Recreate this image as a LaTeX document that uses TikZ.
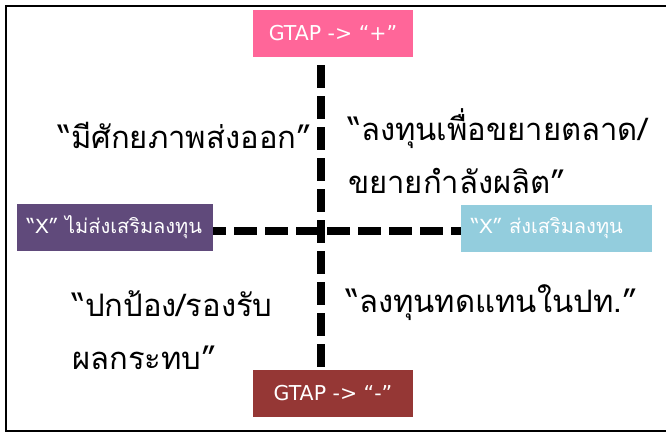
\documentclass[tikz,border=0pt]{standalone}
\usepackage{fontspec}
\newfontfamily\thaifont[Script=Thai]{Loma}
\newfontfamily\latinfont{DejaVu Sans}
\definecolor{gtappos}{HTML}{FF6699}
\definecolor{gtapneg}{HTML}{953735}
\definecolor{xnot}{HTML}{604A7B}
\definecolor{xyes}{HTML}{93CDDD}
\begin{document}
\begin{tikzpicture}[x=1pt, y=-1pt,
    labelbox/.style={minimum height=47pt, text=white, inner sep=0pt,
      font=\thaifont\fontsize{20}{22}\selectfont},
    gtapbox/.style={labelbox, minimum width=160pt,
      font=\latinfont\fontsize{20.5}{22}\selectfont},
    quadtext/.style={anchor=west, align=left, inner sep=0pt,
      font=\thaifont\fontsize{31}{53}\selectfont},
    crossline/.style={line width=7.5pt, dash pattern=on 23pt off 8pt}]
    \useasboundingbox (0,0) rectangle (666,432);
    \draw[line width=2pt] (668,6) -- (6,6) -- (6,431) -- (668,431);

    \node[gtapbox, fill=gtappos] (pos) at (333,33.5) {GTAP -> “+”};
    \node[gtapbox, fill=gtapneg] (neg) at (333,393.5) {GTAP -> “-”};
    \node[labelbox, fill=xnot, minimum width=196pt, text width=176pt, align=left] (xno) at (115,227.5) {“X” ไม่ส่งเสริมลงทุน};
    \node[labelbox, fill=xyes, minimum width=191pt, text width=171pt, align=left] (xyes) at (556.5,228.5) {“X” ส่งเสริมลงทุน};

    % the two axes
    \draw[crossline, dash phase=23pt] ([xshift=-12pt]pos.south) -- ([xshift=-12pt]neg.north);
    \draw[crossline, dash phase=10pt] ([yshift=-3.5pt]xno.east) -- ([yshift=-2.5pt]xyes.west);

    \node[quadtext] (export) at (58,135) {“มีศักยภาพส่งออก”};
    \node[quadtext] (expand) at (348,151) {“ลงทุนเพื่อขยายตลาด/\\ขยายกำลังผลิต”};
    \node[quadtext] (protect) at (72,330) {“ปกป้อง/รองรับ\\ผลกระทบ”};
    \node[quadtext] (replace) at (346,303) {“ลงทุนทดแทนในปท.”};
\end{tikzpicture}
\end{document}
